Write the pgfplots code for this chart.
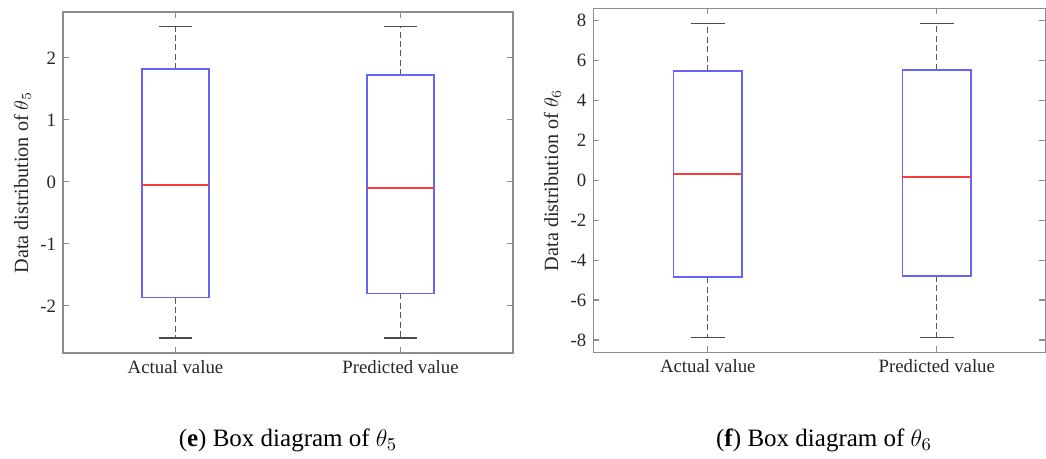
\documentclass[border=0pt]{standalone}
\usepackage{fontspec}
\setmainfont{Liberation Serif}
\usepackage{pgfplots}
\pgfplotsset{compat=1.18}
\usepgfplotslibrary{statistics}

\definecolor{boxblue}{RGB}{100,100,245}
\definecolor{medred}{RGB}{250,60,60}
\definecolor{axgray}{RGB}{140,140,140}
\definecolor{txt}{RGB}{38,38,38}

\pgfplotsset{
  matlabbox/.style={
    scale only axis,
    xmin=0.5,
    xtick={1,2},
    xticklabels={Actual value, Predicted value},
    tick align=inside,
    tick pos=both,
    major tick length=3pt,
    axis line style={axgray, line width=0.75pt},
    every tick/.style={axgray, line width=0.6pt},
    tick label style={font=\fontsize{9.4}{10}\selectfont, text=txt},
    /pgf/number format/assume math mode=true,
    every axis y label/.style={at={(axis description cs:-0.09,0.5)}, anchor=center, rotate=90,
      font=\fontsize{10.1}{11}\selectfont, text=txt},
    boxplot/draw direction=y,
    boxplot/box extend=0.3,
    boxplot/whisker extend=0.15,
    boxplot/every box/.style={draw=boxblue, line width=0.85pt},
    boxplot/draw/median/.code={
      \draw[medred, line width=0.95pt]
        (boxplot box cs:\pgfplotsboxplotvalue{median},0) --
        (boxplot box cs:\pgfplotsboxplotvalue{median},1);
    },
    boxplot/draw/lower whisker/.code={
      \draw[black!65, dash pattern=on 3pt off 1.7pt, line width=0.6pt]
        (boxplot box cs:\pgfplotsboxplotvalue{lower quartile},0.5) --
        (boxplot box cs:\pgfplotsboxplotvalue{lower whisker},0.5);
      \draw[black!70, line width=0.7pt]
        (boxplot whisker cs:\pgfplotsboxplotvalue{lower whisker},0) --
        (boxplot whisker cs:\pgfplotsboxplotvalue{lower whisker},1);
    },
    boxplot/draw/upper whisker/.code={
      \draw[black!65, dash pattern=on 3pt off 1.7pt, line width=0.6pt]
        (boxplot box cs:\pgfplotsboxplotvalue{upper quartile},0.5) --
        (boxplot box cs:\pgfplotsboxplotvalue{upper whisker},0.5);
      \draw[black!70, line width=0.7pt]
        (boxplot whisker cs:\pgfplotsboxplotvalue{upper whisker},0) --
        (boxplot whisker cs:\pgfplotsboxplotvalue{upper whisker},1);
    },
  }
}

\begin{document}
\begin{tikzpicture}
\useasboundingbox (0,0) rectangle (523pt,229.5pt);

% theta_5
\begin{axis}[matlabbox,
  at={(31.5pt,53pt)}, anchor=south west,
  width=225pt, height=170.5pt,
  xmax=2.5,
  ymin=-2.76, ymax=2.74,
  ytick={-2,-1,0,1,2},
  ylabel={Data distribution of $\theta_5$},
]
\addplot[draw=boxblue, boxplot prepared={draw position=1,
  lower whisker=-2.52, lower quartile=-1.866, median=-0.053,
  upper quartile=1.818, upper whisker=2.505}] coordinates {};
\addplot[draw=boxblue, boxplot prepared={draw position=2,
  lower whisker=-2.52, lower quartile=-1.80, median=-0.098,
  upper quartile=1.72, upper whisker=2.505}] coordinates {};
\end{axis}

% theta_6
\begin{axis}[matlabbox,
  at={(296.65pt,53.35pt)}, anchor=south west,
  width=226pt, height=172pt,
  xmax=2.474,
  ymin=-8.62, ymax=8.62,
  ytick={-8,-6,-4,-2,0,2,4,6,8},
  ylabel={Data distribution of $\theta_6$},
]
\addplot[draw=boxblue, boxplot prepared={draw position=1,
  lower whisker=-7.87, lower quartile=-4.86, median=0.30,
  upper quartile=5.48, upper whisker=7.87}] coordinates {};
\addplot[draw=boxblue, boxplot prepared={draw position=2,
  lower whisker=-7.87, lower quartile=-4.80, median=0.15,
  upper quartile=5.54, upper whisker=7.87}] coordinates {};
\end{axis}

\node[anchor=base, font=\fontsize{12.5}{14}\selectfont] at (144pt,6.2pt)
  {(\textbf{e}) Box diagram of $\theta_5$};
\node[anchor=base, font=\fontsize{12.5}{14}\selectfont] at (412pt,6.2pt)
  {(\textbf{f}) Box diagram of $\theta_6$};
\end{tikzpicture}
\end{document}
